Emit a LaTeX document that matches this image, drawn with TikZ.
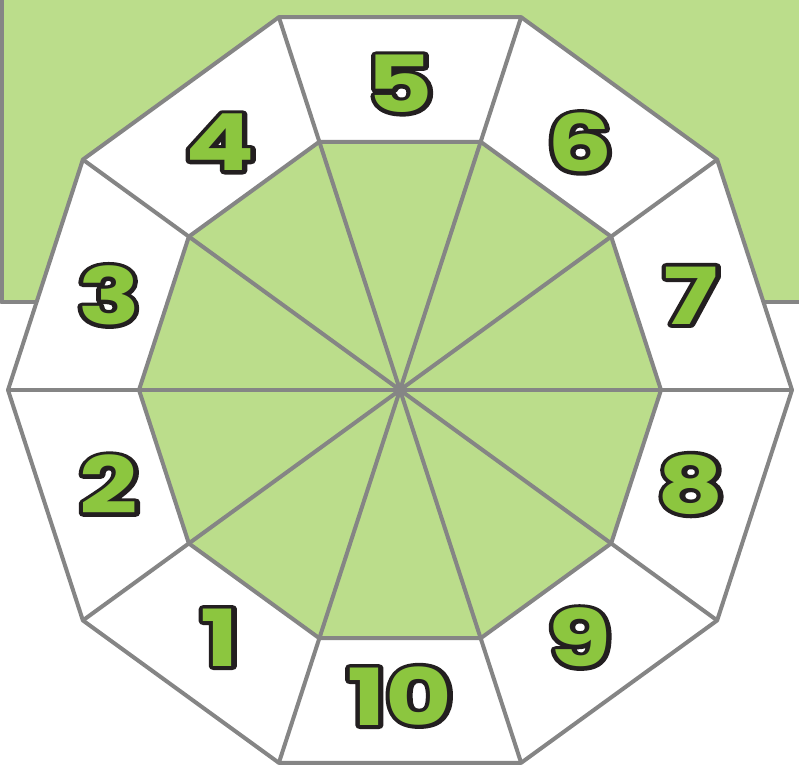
\documentclass[tikz,border=0pt]{standalone}
\usepackage{fontspec}
\newfontfamily\digitfont{Poppins}
\usetikzlibrary{calc}

\definecolor{padgreen}{HTML}{BBDD8B}
\definecolor{numgreen}{HTML}{8CC63F}
\definecolor{edgegrey}{HTML}{858585}

% green digits with a dark outline: stroked copy underneath, plain fill on top
\newcommand\outlined[1]{\rlap{\special{pdf:literal direct q 2 Tr 5.4 w 1 j 0.137 0.122 0.125 RG}#1\special{pdf:literal direct Q}}#1}

\begin{document}
\begin{tikzpicture}[x=0.025cm, y=0.025cm, line join=round]
    \tikzstyle{edge} = [draw=edgegrey, line width=0.1cm]
    \tikzstyle{sectorlabel} = [font=\digitfont\bfseries\fontsize{56}{56}\selectfont,
                               text=numgreen, inner sep=0pt, xscale=1.3, transform shape]

    \useasboundingbox (0,0) rectangle (799,779);

    % green backdrop behind the wheel
    \fill [padgreen] (1.5,477) rectangle (820,800);
    \draw [edge] (1.5,800) -- (1.5,477) -- (820,477);

    \coordinate (c) at (400,389);
    \foreach \k in {0,...,9} {
        \coordinate (o\k) at ($(c)+(\k*36:392)$);
        \coordinate (i\k) at ($(c)+(\k*36:261)$);
    }

    % rings
    \fill [white] (o0) -- (o1) -- (o2) -- (o3) -- (o4) -- (o5) -- (o6) -- (o7) -- (o8) -- (o9) -- cycle;
    \fill [padgreen] (i0) -- (i1) -- (i2) -- (i3) -- (i4) -- (i5) -- (i6) -- (i7) -- (i8) -- (i9) -- cycle;
    \draw [edge] (o0) -- (o1) -- (o2) -- (o3) -- (o4) -- (o5) -- (o6) -- (o7) -- (o8) -- (o9) -- cycle;
    \draw [edge] (i0) -- (i1) -- (i2) -- (i3) -- (i4) -- (i5) -- (i6) -- (i7) -- (i8) -- (i9) -- cycle;
    \foreach \k in {0,...,9}
        \draw [edge] (c) -- (o\k);

    % sector numbers
    \foreach \n in {1,...,10}
        \node (n\n) [sectorlabel] at ($(c)+({90-(\n-5)*36}:306)$) {\outlined{\n}};
\end{tikzpicture}
\end{document}
